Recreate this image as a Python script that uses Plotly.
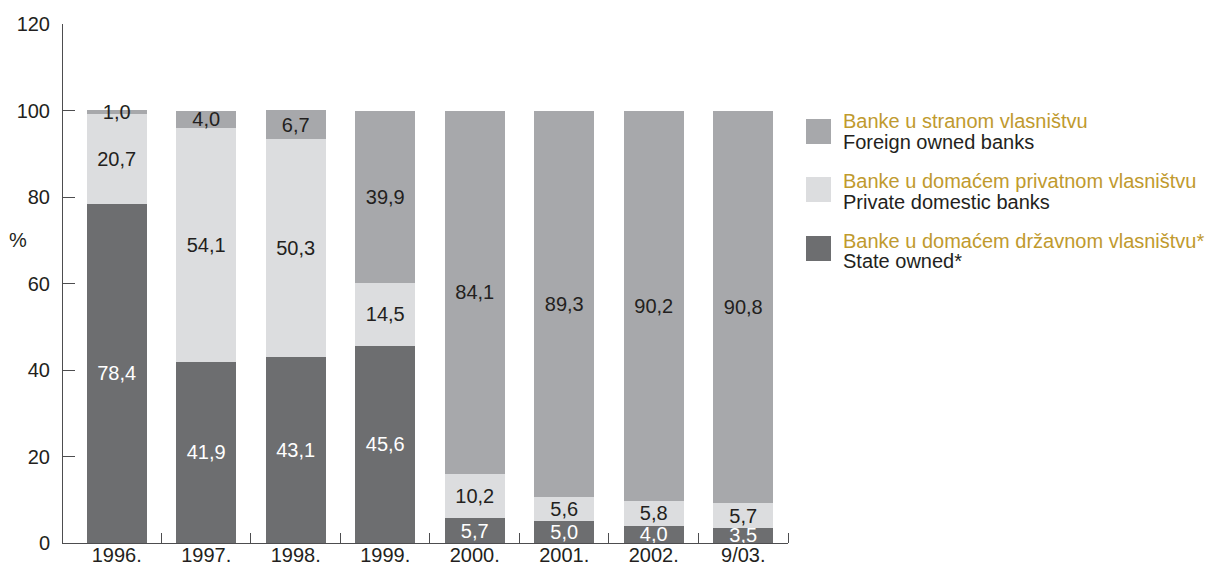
import plotly.graph_objects as go

categories = ["1996.", "1997.", "1998.", "1999.", "2000.", "2001.", "2002.", "9/03."]
state_owned = [78.4, 41.9, 43.1, 45.6, 5.7, 5.0, 4.0, 3.5]
private_domestic = [20.7, 54.1, 50.3, 14.5, 10.2, 5.6, 5.8, 5.7]
foreign_owned = [1.0, 4.0, 6.7, 39.9, 84.1, 89.3, 90.2, 90.8]
y_ticks = [0, 20, 40, 60, 80, 100, 120]

series_names_hr = ["Banke u stranom vlasništvu", "Banke u domaćem privatnom vlasništvu",
                   "Banke u domaćem državnom vlasništvu*"]
series_names_en = ["Foreign owned banks", "Private domestic banks", "State owned*"]

C_FOREIGN = "#a7a8ab"
C_PRIVATE = "#dcdddf"
C_STATE = "#6d6e70"
GOLD = "#c09a2e"
DARK = "#231f20"
AXIS = "#4d4d4f"
FONT = "Liberation Sans"
FS = 20

x = list(range(len(categories)))

def fmt(v):
    return f"{v:.1f}".replace(".", ",")

fig = go.Figure()
for vals, col, tcol, name in [
    (state_owned, C_STATE, "white", series_names_en[2]),
    (private_domestic, C_PRIVATE, DARK, series_names_en[1]),
    (foreign_owned, C_FOREIGN, DARK, series_names_en[0]),
]:
    fig.add_trace(go.Bar(
        x=x, y=vals, name=name, marker=dict(color=col, line=dict(width=0)),
        width=0.67, text=[fmt(v) for v in vals], textposition="inside",
        insidetextanchor="middle", constraintext="none",
        textfont=dict(color=tcol, size=FS, family=FONT),
        hoverinfo="skip", showlegend=False,
    ))

fig.update_layout(
    barmode="stack",
    width=1231, height=568,
    margin=dict(l=63, r=443, t=24, b=25),
    paper_bgcolor="white", plot_bgcolor="white",
    font=dict(family=FONT, size=FS, color=DARK),
)
fig.update_xaxes(
    range=[-0.6, 7.5], tickvals=x, ticktext=categories, ticks="", showgrid=False,
    zeroline=False, showline=True, linecolor=AXIS, linewidth=1, automargin=False,
    tickfont=dict(size=FS, family=FONT, color=DARK), ticklabelstandoff=-6,
    minor=dict(tickvals=[i + 0.5 for i in x], ticks="inside", ticklen=10,
               tickcolor=AXIS, showgrid=False),
)
fig.update_yaxes(
    range=[0, 120], tickvals=y_ticks, ticks="inside", ticklen=12, tickcolor=AXIS,
    showgrid=False, zeroline=False, showline=True, linecolor=AXIS, linewidth=1,
    automargin=False,
    tickfont=dict(size=FS, family=FONT, color=DARK), ticklabelstandoff=8,
)

fig.add_annotation(x=-0.062, y=70, xref="paper", yref="y", text="%", showarrow=False,
                   font=dict(size=FS, family=FONT, color=DARK), xanchor="center")

# Custom legend
plot_w = 1231 - 63 - 443
plot_h = 568 - 24 - 25
def px2x(p):
    return (p - 63) / plot_w
def py2y(p):
    return (568 - 25 - p) / plot_h

legend_items = [
    (C_FOREIGN, series_names_hr[0], series_names_en[0], 119, 121, 142),
    (C_PRIVATE, series_names_hr[1], series_names_en[1], 177, 181, 202),
    (C_STATE, series_names_hr[2], series_names_en[2], 236, 241, 261),
]
for col, hr, en, top, y1, y2 in legend_items:
    fig.add_shape(type="rect", xref="paper", yref="paper",
                  x0=px2x(806), x1=px2x(831), y0=py2y(top + 25), y1=py2y(top),
                  fillcolor=col, line=dict(width=0))
    fig.add_annotation(xref="paper", yref="paper", x=px2x(841), y=py2y(y1),
                       xanchor="left", yanchor="middle", showarrow=False, text=hr,
                       font=dict(size=FS, family=FONT, color=GOLD))
    fig.add_annotation(xref="paper", yref="paper", x=px2x(841), y=py2y(y2),
                       xanchor="left", yanchor="middle", showarrow=False, text=en,
                       font=dict(size=FS, family=FONT, color=DARK))

fig.write_html("out.html", config={"displayModeBar": False},
               post_script="document.body.style.margin='0';document.body.style.overflow='hidden';")
